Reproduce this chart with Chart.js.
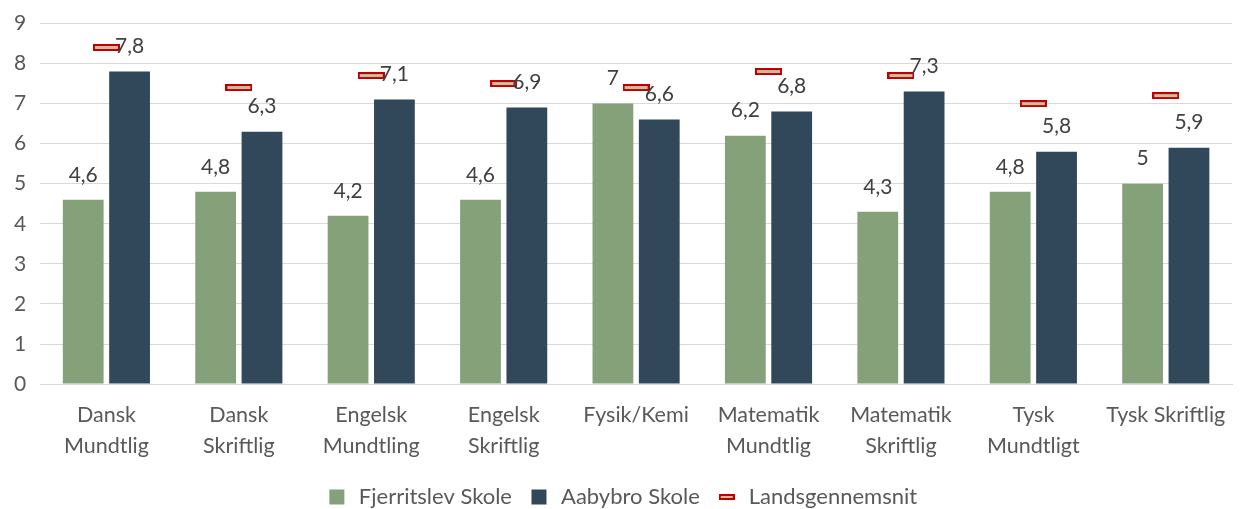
<!DOCTYPE html>
<html>
<head>
<meta charset="utf-8">
<title>Karakterer</title>
<script src="https://cdn.jsdelivr.net/npm/chart.js@4/dist/chart.umd.min.js"></script>
<style>
  html, body { margin: 0; padding: 0; background: #fff; }
  #wrap { width: 1243px; height: 509px; }
</style>
</head>
<body>
<div id="wrap"><canvas id="chart"></canvas></div>
<script>
// data
const categories = [
  ['Dansk', 'Mundtlig'], ['Dansk', 'Skriftlig'], ['Engelsk', 'Mundtling'],
  ['Engelsk', 'Skriftlig'], 'Fysik/Kemi', ['Matematik', 'Mundtlig'],
  ['Matematik', 'Skriftlig'], ['Tysk', 'Mundtligt'], 'Tysk Skriftlig'
];
const fjerritslev = [4.6, 4.8, 4.2, 4.6, 7, 6.2, 4.3, 4.8, 5];
const aabybro = [7.8, 6.3, 7.1, 6.9, 6.6, 6.8, 7.3, 5.8, 5.9];
const landsgennemsnit = [8.4, 7.4, 7.7, 7.5, 7.4, 7.8, 7.7, 7.0, 7.2];

const fontFamily = 'Lato, "Noto Sans", sans-serif';

// dash-shaped marker like the one Excel uses
function makeMarker(w, h, lw) {
  const c = document.createElement('canvas');
  c.width = w; c.height = h;
  const g = c.getContext('2d');
  g.fillStyle = '#c00000';
  g.fillRect(0, 0, w, h);
  g.fillStyle = '#c4c19e';
  g.fillRect(lw, lw, w - 2 * lw, h - 2 * lw);
  return c;
}
const marker = makeMarker(27, 7, 2);
const legendMarker = makeMarker(16, 6, 2);

// values above the bars, with comma decimals
const barLabels = {
  id: 'barLabels',
  afterDatasetsDraw(chart) {
    const ctx = chart.ctx;
    ctx.save();
    ctx.font = '21px ' + fontFamily;
    ctx.fillStyle = '#404040';
    ctx.textAlign = 'center';
    ctx.textBaseline = 'middle';
    [0, 1].forEach(di => {
      const meta = chart.getDatasetMeta(di);
      meta.data.forEach((bar, i) => {
        const v = chart.data.datasets[di].data[i];
        ctx.fillText(String(v).replace('.', ','), bar.x, bar.y - 25);
      });
    });
    ctx.restore();
  }
};

new Chart(document.getElementById('chart'), {
  type: 'bar',
  data: {
    labels: categories,
    datasets: [
      {
        label: 'Fjerritslev Skole',
        data: fjerritslev,
        backgroundColor: '#84a17a',
        categoryPercentage: 0.7,
        barPercentage: 0.88
      },
      {
        label: 'Aabybro Skole',
        data: aabybro,
        backgroundColor: '#31485b',
        categoryPercentage: 0.7,
        barPercentage: 0.88
      },
      {
        type: 'line',
        label: 'Landsgennemsnit',
        data: landsgennemsnit,
        showLine: false,
        pointStyle: marker,
        pointRadius: 10,
        pointHoverRadius: 10
      }
    ]
  },
  options: {
    responsive: true,
    maintainAspectRatio: false,
    animation: false,
    layout: { padding: { top: -4, right: 0, left: 0, bottom: -9 } },
    plugins: {
      tooltip: { enabled: false },
      legend: {
        position: 'bottom',
        labels: {
          font: { family: fontFamily, size: 22 },
          color: '#595959',
          boxHeight: 15,
          padding: 16,
          usePointStyle: true,
          generateLabels(chart) {
            return chart.data.datasets.map((ds, i) => ({
              text: ds.label,
              fillStyle: ds.backgroundColor || '#c00000',
              strokeStyle: 'transparent',
              lineWidth: 0,
              pointStyle: i === 2 ? legendMarker : 'rect',
              fontColor: '#595959',
              datasetIndex: i,
              hidden: false
            }));
          }
        }
      }
    },
    scales: {
      x: {
        grid: { display: false },
        border: { color: '#d9d9d9', width: 1 },
        ticks: {
          font: { family: fontFamily, size: 21.5, lineHeight: 1.44 },
          color: '#595959',
          padding: 8,
          maxRotation: 0,
          autoSkip: false
        }
      },
      y: {
        min: 0,
        max: 9,
        grid: { color: '#d9d9d9', lineWidth: 1, drawTicks: false },
        border: { display: false },
        ticks: {
          stepSize: 1,
          font: { family: fontFamily, size: 21, lineHeight: 0.9 },
          color: '#595959',
          padding: 14
        }
      }
    }
  },
  plugins: [barLabels]
});
</script>
</body>
</html>
